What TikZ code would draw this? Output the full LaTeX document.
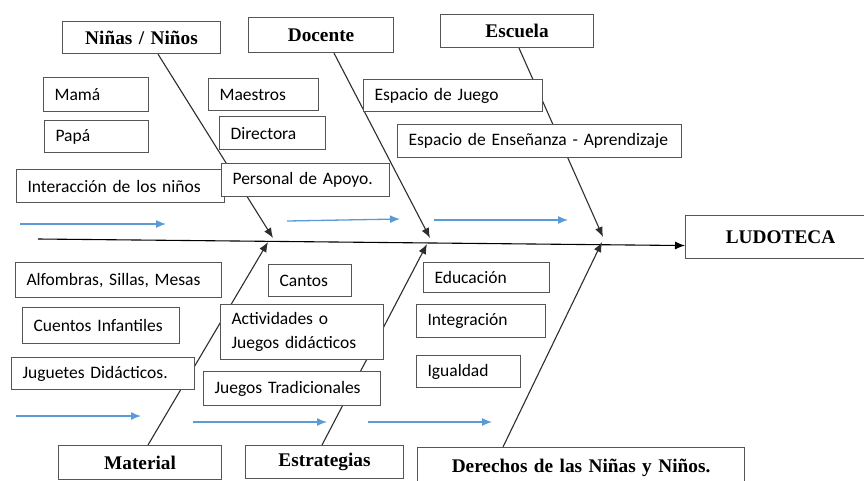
\documentclass[tikz,border=0pt]{standalone}
\usepackage{fontspec}
\setmainfont{Carlito}
\newfontfamily\cabecera{Liberation Serif}
\usetikzlibrary{arrows.meta,positioning}
\definecolor{boxgray}{RGB}{85,85,85}
\definecolor{bonegray}{RGB}{45,45,45}
\definecolor{flowblue}{RGB}{91,155,213}
\tikzset{
  item/.style={draw=boxgray, fill=white, line width=1.1pt, anchor=north west,
    inner xsep=11pt, inner ysep=0pt, align=left,
    font=\fontsize{17.5}{24}\selectfont},
  head/.style={item, align=center, font=\cabecera\bfseries\fontsize{19.3}{22}\selectfont},
  bone/.style={draw=bonegray, line width=1.1pt, -{Latex[length=10pt,width=8pt]}},
  flujo/.style={draw=flowblue, line width=1.3pt, -{Latex[length=10pt,width=8pt]}},
}
\newcommand{\caja}[7][item]{
  % box: style, name, top-left x, top-left y, width, height, text (all in px)
  \pgfmathsetmacro{\cajatw}{#5-22}
  \node[#1, text width=\cajatw pt, minimum height=#6pt] (#2) at (#3,#4) {#7};
}

\begin{document}
\begin{tikzpicture}[x=1pt,y=-1pt]
  \useasboundingbox (0,0) rectangle (864,480);
  % spine
  \coordinate (cola) at (38,239);
  \coordinate (k1) at (273,238);
  \coordinate (k2) at (430,238);
  \coordinate (k3) at (603,237);
  \coordinate (k4) at (268,242);
  \coordinate (k5) at (427,244);
  \coordinate (k6) at (602,242);
  % heads
  \caja[head]{ninas}{62}{21}{158}{32}{Niñas / Niños}
  \caja[head]{docente}{248}{17}{145}{35}{Docente}
  \caja[head]{escuela}{440}{14}{153}{33}{Escuela}
  \caja[head]{material}{58}{445}{163}{34}{Material}
  \caja[head]{estrategias}{245}{445}{158}{33}{Estrategias}
  \caja[head]{derechos}{417}{447}{327}{40}{Derechos de las Niñas y Niños.}
  \caja[head]{ludoteca}{685}{215}{190}{43}{LUDOTECA}
  \draw[bone, draw=black] (cola) -- ([yshift=-8.5pt]ludoteca.west);
  % bones
  \draw[bone] ([xshift=96pt]ninas.south west) -- (k1);
  \draw[bone] ([xshift=86pt]docente.south west) -- (k2);
  \draw[bone] ([xshift=79pt]escuela.south west) -- (k3);
  \draw[bone] ([xshift=90pt]material.north west) -- (k4);
  \draw[bone] ([xshift=77pt]estrategias.north west) -- (k5);
  \draw[bone] ([xshift=86pt]derechos.north west) -- (k6);
  % causes, top
  \caja{mama}{43}{77}{105}{34}{Mamá}
  \caja{papa}{44}{120}{104}{32}{Papá}
  \caja{interaccion}{16}{169}{208}{33}{Interacción de los niños}
  \caja{maestros}{208}{78}{110}{32}{Maestros}
  \caja{directora}{219}{116}{106}{33}{Directora}
  \caja{apoyo}{221}{163}{168}{33}{Personal de Apoyo.}
  \caja{espjuego}{363}{79}{179}{32}{Espacio de Juego}
  \caja{espense}{397}{124}{284}{33}{Espacio de Enseñanza - Aprendizaje}
  % causes, bottom
  \caja{alfombras}{15}{262}{206}{35}{Alfombras, Sillas, Mesas}
  \caja{cuentos}{22}{307}{157}{36}{Cuentos Infantiles}
  \caja{juguetes}{11}{357}{183}{32}{Juguetes Didácticos.}
  \caja{cantos}{268}{264}{83}{32}{Cantos}
  \caja{actividades}{220}{304}{163}{55}{Actividades o\\Juegos didácticos}
  \caja{tradicionales}{203}{371}{177}{34}{Juegos Tradicionales}
  \caja{educacion}{423}{262}{126}{30}{Educación}
  \caja{integracion}{416}{304}{129}{33}{Integración}
  \caja{igualdad}{416}{355}{104}{32}{Igualdad}
  % blue flow arrows
  \foreach \xa/\ya/\xb/\yb [count=\i] in {20/224/166/224, 287/221/400/219,
      434/220/568/220, 16/416/141/416, 193/422/327/422, 368/422/492/422} {
    \coordinate (fa\i) at (\xa,\ya);
    \coordinate (fb\i) at (\xb,\yb);
    \draw[flujo] (fa\i) -- (fb\i);
  }
\end{tikzpicture}
\end{document}
